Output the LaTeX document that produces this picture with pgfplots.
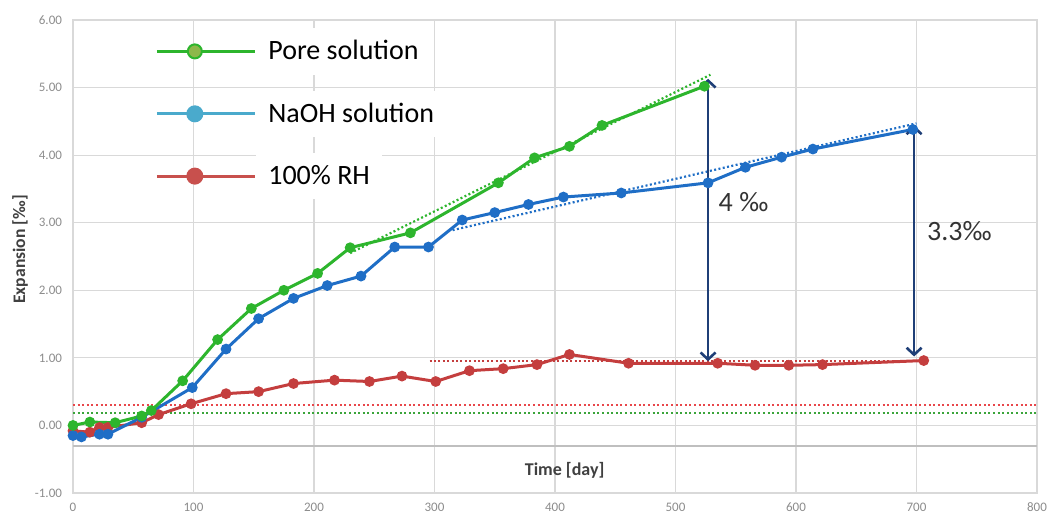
\documentclass[border=0pt]{standalone}
\usepackage{pgfplots}
\pgfplotsset{compat=1.18}
\usepackage{fontspec}
\setmainfont{Carlito}
\usetikzlibrary{arrows.meta}

\definecolor{gridgray}{HTML}{D9D9D9}
\definecolor{axisgray}{HTML}{BFBFBF}
\definecolor{ticktext}{HTML}{8C8C8C}
\definecolor{poregreen}{HTML}{2DB52D}
\definecolor{poremark}{HTML}{8DB84A}
\definecolor{naohblue}{HTML}{1F6EC6}
\definecolor{naohlegend}{HTML}{4AAACC}
\definecolor{rhred}{HTML}{C43E3E}
\definecolor{rhlegend}{HTML}{C8504D}
\definecolor{trendred}{HTML}{E8474B}
\definecolor{trendgreen}{HTML}{3BA53B}
\definecolor{arrownavy}{HTML}{1F3F77}
\definecolor{labeltext}{HTML}{404040}
\definecolor{notetext}{HTML}{333333}

% measured series
\pgfplotstableread{
day exp
0 0.00
14 0.05
35 0.04
57 0.14
65 0.22
91 0.66
120 1.27
148 1.73
175 2.00
203 2.25
230 2.63
280 2.85
353 3.59
383 3.96
412 4.13
439 4.44
524 5.02
}\poresol
\pgfplotstableread{
day exp
0 -0.15
7 -0.17
22 -0.13
29 -0.13
57 0.12
99 0.56
127 1.13
154 1.58
183 1.88
211 2.07
239 2.21
267 2.64
295 2.64
323 3.04
350 3.15
378 3.27
407 3.38
455 3.44
527 3.59
558 3.82
588 3.97
614 4.09
697 4.38
}\naohsol
\pgfplotstableread{
day exp
0 -0.08
14 -0.10
22 -0.03
29 -0.03
57 0.04
71 0.16
98 0.32
127 0.47
154 0.50
183 0.62
217 0.67
246 0.65
273 0.73
301 0.65
329 0.81
357 0.84
385 0.90
412 1.05
461 0.92
535 0.92
566 0.89
594 0.89
622 0.90
706 0.96
}\rhsol

\begin{document}
\begin{tikzpicture}[font=\fontsize{8}{9.6}\selectfont]
\begin{axis}[
  scale only axis,
  width=482pt, height=236.5pt,
  xmin=0, xmax=800, ymin=-1, ymax=6,
  xtick={0,100,...,800},
  ytick={-1,0,...,6},
  grid=major,
  major grid style={gridgray, line width=0.6pt},
  axis line style={gridgray, line width=0.6pt},
  major tick length=0pt,
  /pgf/number format/assume math mode=true,
  yticklabel={\pgfmathprintnumber[fixed,fixed zerofill,precision=2]{\tick}},
  xticklabel={\pgfmathprintnumber[fixed,precision=0]{\tick}},
  ticklabel style={font=\fontsize{6.5}{7.5}\selectfont, text=ticktext},
  yticklabel style={xshift=-2pt},
  xticklabel style={yshift=-1.5pt},
  xlabel={\textbf{Time [day]}},
  xlabel style={at={(axis cs:408,-0.67)}, anchor=center, text=labeltext,
    font=\fontsize{9}{10.8}\selectfont},
  ylabel={\textbf{Expansion [‰]}},
  ylabel style={at={(rel axis cs:0,0.515)}, anchor=center, yshift=26.5pt,
    text=labeltext, font=\fontsize{8.8}{10.5}\selectfont},
  legend cell align=left,
  legend style={
    at={(axis cs:68,5.885)}, anchor=north west,
    draw=none, fill=none, inner sep=0pt,
    row sep=8pt,
    font=\fontsize{14}{16.8}\selectfont,
    nodes={fill=white, inner xsep=6pt, inner ysep=6pt, text=black},
  },
  legend image code/.code={
    \draw[mark repeat=2, mark phase=2, #1]
      plot coordinates {(0pt,0pt) (19pt,0pt) (40pt,0pt)};
    \path (40pt,0pt) -- (49pt,0pt);
  },
]
% horizontal axis line
\addplot[axisgray, line width=1.1pt, forget plot] coordinates {(0,-0.3) (800,-0.3)};

% reference levels
\addplot[trendred, line width=1.1pt, dash pattern=on 1pt off 1.3pt, forget plot]
  coordinates {(0,0.30) (800,0.30)};
\addplot[trendgreen, line width=1.1pt, dash pattern=on 1pt off 1.3pt, forget plot]
  coordinates {(0,0.18) (800,0.18)};

% trend lines
\addplot[poregreen, line width=1.1pt, dash pattern=on 1pt off 1.2pt, forget plot]
  coordinates {(230,2.55) (529,5.19)};
\addplot[naohblue, line width=1.1pt, dash pattern=on 1pt off 1.2pt, forget plot]
  coordinates {(315,2.89) (700,4.47)};
\addplot[rhred, line width=1.1pt, dash pattern=on 1pt off 1.2pt, forget plot]
  coordinates {(296,0.95) (706,0.95)};

% measured series
\addplot[rhred, line width=1.5pt, mark=*, mark size=1.9pt, forget plot] table[x=day,y=exp] {\rhsol};
\addplot[naohblue, line width=1.5pt, mark=*, mark size=1.9pt, forget plot] table[x=day,y=exp] {\naohsol};
\addplot[poregreen, line width=1.5pt, mark=*, mark size=1.9pt, forget plot] table[x=day,y=exp] {\poresol};

% expansion differences
\addplot[arrownavy, line width=1.3pt, {Straight Barb[length=3.5pt,width=7.5pt]}-{Straight Barb[length=3.5pt,width=7.5pt]}, forget plot]
  coordinates {(527,0.95) (527,5.13)};
\addplot[arrownavy, line width=1.3pt, {Straight Barb[length=3.5pt,width=7.5pt]}-{Straight Barb[length=3.5pt,width=7.5pt]}, forget plot]
  coordinates {(698,1.02) (698,4.44)};

\node[anchor=west, font=\fontsize{14}{16.8}\selectfont, text=notetext] at (axis cs:530,3.30) {4 ‰};
\node[anchor=west, font=\fontsize{14}{16.8}\selectfont, text=notetext] at (axis cs:703,2.88) {3.3‰};

% legend entries
\addlegendimage{poregreen, line width=1.5pt, mark=*, mark size=3.5pt, mark options={fill=poremark, draw=poregreen, line width=1pt}}
\addlegendentry{Pore solution}
\addlegendimage{naohlegend, line width=1.5pt, mark=*, mark size=3.5pt}
\addlegendentry{NaOH solution}
\addlegendimage{rhlegend, line width=1.5pt, mark=*, mark size=3.5pt}
\addlegendentry{100\% RH}
\end{axis}
\pgfresetboundingbox
\path[use as bounding box] ([shift={(-36.5pt,-11pt)}]current axis.south west)
  rectangle ([shift={(6.5pt,10pt)}]current axis.north east);
\end{tikzpicture}
\end{document}
